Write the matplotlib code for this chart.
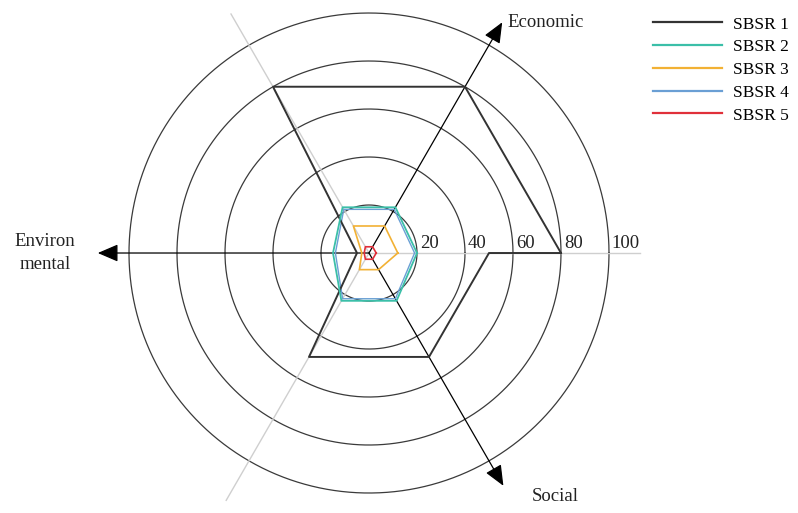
import numpy as np
import matplotlib
matplotlib.use("Agg")
import matplotlib.pyplot as plt
from matplotlib.lines import Line2D

plt.rcParams["font.family"] = ["Liberation Serif", "DejaVu Serif"]
plt.rcParams["font.size"] = 13.5

# ------------------------
# Data
# ------------------------

# spoke angles in degrees (last point closes back on the 0 degree spoke)
angles_deg = [0, 60, 120, 180, 240, 300, 360]

series_names = ["SBSR 1", "SBSR 2", "SBSR 3", "SBSR 4", "SBSR 5"]
sbsr1 = [80, 80, 80, 5, 50, 50, 50]
sbsr2 = [20, 22, 22, 15, 23, 23, 20]
sbsr3 = [12, 13, 13, 3, 8, 8, 12]
sbsr4 = [19, 21, 21, 14, 22, 22, 19]
sbsr5 = [3, 3, 3, 2, 3, 3, 3]

ring_values = [20, 40, 60, 80, 100]

axis_names = ["Economic", "Environ\nmental", "Social"]

colors = ["#333333", "#3bbfa8", "#f2b134", "#6a9fd4", "#e0303a"]

# ------------------------
# Chart
# ------------------------

fig = plt.figure(figsize=(7.98, 5.13), dpi=100)
ax = fig.add_axes([0.1015, -0.0546, 0.7218, 1.1228], projection="polar")
ax.set_ylim(0, 120)
ax.axis("off")

# concentric rings
full = np.linspace(0, 2 * np.pi, 400)
for v in ring_values:
    ax.plot(full, np.full_like(full, v), color="#3a3a3a", lw=0.9, zorder=1)
    ax.annotate(str(v), xy=(0, v), xytext=(2, 1), textcoords="offset points",
                ha="left", va="bottom", color="#222222")

# light gray spokes
for deg, length in [(0, 113), (120, 115), (240, 119)]:
    ax.plot([0, np.deg2rad(deg)], [0, length], color="#cfcfcf", lw=1.0, zorder=1)

# black arrows for the three labelled dimensions
arrow_style = dict(arrowstyle="-|>,head_length=0.7,head_width=0.3",
                   color="black", lw=0.9, mutation_scale=18,
                   shrinkA=0, shrinkB=0)
for deg, length in [(60, 111), (180, 113), (300, 112)]:
    ax.annotate("", xy=(np.deg2rad(deg), length), xytext=(0, 0),
                arrowprops=arrow_style, zorder=2)

ax.text(np.deg2rad(59), 112, axis_names[0], ha="left", va="center", color="#222222")
ax.text(np.pi, 135, axis_names[1], ha="center", va="center",
        linespacing=1.45, color="#222222")
ax.text(np.deg2rad(-56.3), 122, axis_names[2], ha="left", va="center", color="#222222")

# series polygons
theta = np.deg2rad(angles_deg)
all_series = [sbsr1, sbsr2, sbsr3, sbsr4, sbsr5]
orders = [5, 6, 4, 3, 7]
widths = [1.4, 1.3, 1.2, 1.0, 1.2]
for vals, col, z, w in zip(all_series, colors, orders, widths):
    t = np.append(theta, theta[0])
    r = np.append(vals, vals[0])
    ax.plot(t, r, color=col, lw=w, zorder=z)

handles = [Line2D([0], [0], color=c, lw=1.6) for c in colors]
fig.legend(handles, series_names, loc="upper left",
           bbox_to_anchor=(0.818, 0.968), frameon=False, fontsize=12.5,
           handlelength=4.0, handletextpad=0.6, labelspacing=0.38,
           borderpad=0, borderaxespad=0)

fig.savefig("out.png", dpi=100)
